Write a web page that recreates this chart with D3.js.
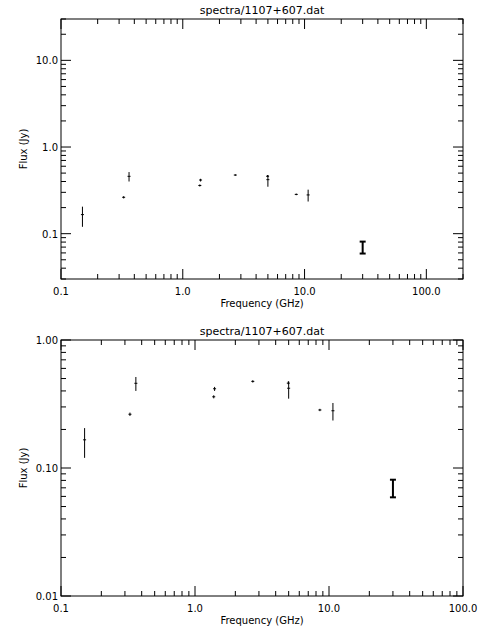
<!DOCTYPE html><html><head><meta charset="utf-8">
<script src="https://cdn.jsdelivr.net/npm/d3@7"></script>
<style>body{margin:0;background:#fff}</style></head><body>
<script>
const title="spectra/1107+607.dat";
const freq=[0.15,0.327,0.362,1.4,1.38,2.7,4.97,5.0,8.55,10.7,30.0];
const flux=[0.166,0.263,0.459,0.416,0.36,0.475,0.46,0.42,0.284,0.28,0.07];
const errLo=[0.12,0.255,0.40,0.40,0.35,0.465,0.45,0.348,0.278,0.235,0.059];
const errHi=[0.205,0.271,0.514,0.43,0.37,0.485,0.475,0.475,0.29,0.322,0.081];
const thick=[0,0,0,0,0,0,0,0,0,0,1];
const panels=[
 {top:19,bottom:279,x:[0.1,200],y:[0.03,30],xt:[0.1,1,10,100],yt:[0.1,1,10],yf:d3.format(".1f")},
 {top:340,bottom:596,x:[0.1,100],y:[0.01,1],xt:[0.1,1,10,100],yt:[0.01,0.1,1],yf:d3.format(".2f")}
];
const L=61,R=463;
const svg=d3.select("body").append("svg").attr("width",480).attr("height",640)
 .style("font-family","DejaVu Sans").style("font-size","10px");
function minors(lo,hi){const a=[];for(let e=Math.floor(Math.log10(lo));e<=Math.ceil(Math.log10(hi));e++)for(let m=1;m<10;m++){const v=m*10**e;if(v>=lo*0.999&&v<=hi*1.001)a.push(v);}return a;}
panels.forEach(p=>{
 const x=d3.scaleLog().domain(p.x).range([L,R]);
 const y=d3.scaleLog().domain(p.y).range([p.bottom,p.top]);
 const g=svg.append("g");
 g.append("rect").attr("x",L).attr("y",p.top).attr("width",R-L).attr("height",p.bottom-p.top).attr("fill","none").attr("stroke","#000");
 const xm=minors(...p.x), ym=minors(...p.y);
 xm.forEach(v=>{const big=p.xt.some(t=>Math.abs(t-v)<1e-9);const len=big?10:5;
  g.append("line").attr("x1",x(v)).attr("x2",x(v)).attr("y1",p.bottom).attr("y2",p.bottom-len).attr("stroke","#000");
  g.append("line").attr("x1",x(v)).attr("x2",x(v)).attr("y1",p.top).attr("y2",p.top+len).attr("stroke","#000");});
 ym.forEach(v=>{const big=p.yt.some(t=>Math.abs(t-v)<1e-9);const len=big?10:5;
  g.append("line").attr("y1",y(v)).attr("y2",y(v)).attr("x1",L).attr("x2",L+len).attr("stroke","#000");
  g.append("line").attr("y1",y(v)).attr("y2",y(v)).attr("x1",R).attr("x2",R-len).attr("stroke","#000");});
 p.xt.forEach(v=>g.append("text").attr("x",x(v)).attr("y",p.bottom+16).attr("text-anchor","middle").text(d3.format(".1f")(v)));
 p.yt.forEach(v=>g.append("text").attr("x",L-3).attr("y",y(v)+4).attr("text-anchor","end").text(p.yf(v)));
 g.append("text").attr("x",(L+R)/2).attr("y",p.bottom+28).attr("text-anchor","middle").text("Frequency (GHz)");
 g.append("text").attr("transform",`translate(27,${(p.top+p.bottom)/2}) rotate(-90)`).attr("text-anchor","middle").text("Flux (Jy)");
 g.append("text").attr("x",(L+R)/2).attr("y",p.top-5).attr("text-anchor","middle").style("font-size","11px").text(title);
 freq.forEach((f,i)=>{
  const cx=x(f);
  const w=thick[i]?2:1;
  g.append("line").attr("x1",cx).attr("x2",cx).attr("y1",y(errLo[i])).attr("y2",y(errHi[i])).attr("stroke","#000").attr("stroke-width",w);
  if(thick[i]){[errLo[i],errHi[i]].forEach(v=>g.append("line").attr("x1",cx-3).attr("x2",cx+3).attr("y1",y(v)).attr("y2",y(v)).attr("stroke","#000").attr("stroke-width",2));}
  else g.append("line").attr("x1",cx-1.5).attr("x2",cx+1.5).attr("y1",y(flux[i])).attr("y2",y(flux[i])).attr("stroke","#000");
 });
});
</script></body></html>
